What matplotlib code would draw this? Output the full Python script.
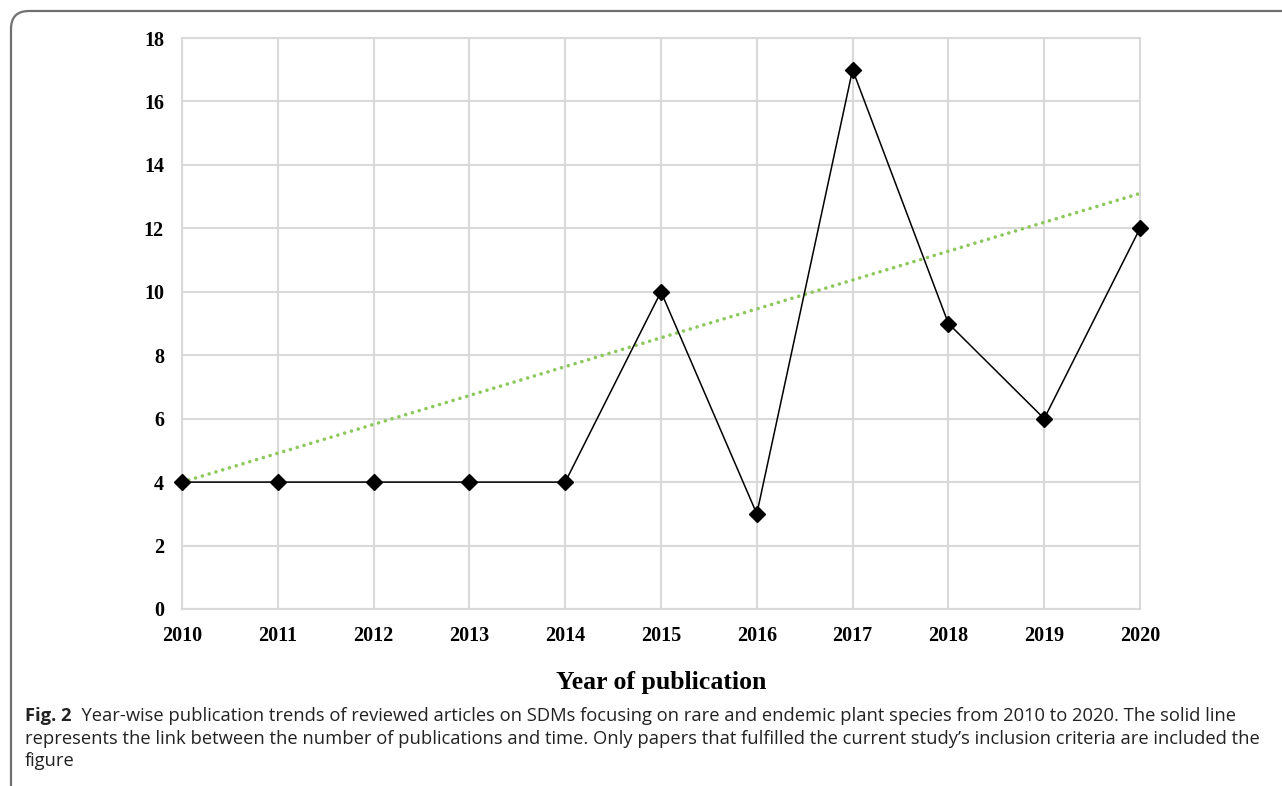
import matplotlib.pyplot as plt
from matplotlib.patches import FancyBboxPatch

# publications per year
years = [2010, 2011, 2012, 2013, 2014, 2015, 2016, 2017, 2018, 2019, 2020]
counts = [4, 4, 4, 4, 4, 10, 3, 17, 9, 6, 12]

# trendline end values
trend_years = [2010, 2020]
trend_vals = [4.0, 13.1]

y_ticks = [0, 2, 4, 6, 8, 10, 12, 14, 16, 18]

caption_bold = "Fig. 2"
caption_lines = [
    "  Year-wise publication trends of reviewed articles on SDMs focusing on rare and endemic plant species from 2010 to 2020. The solid line",
    "represents the link between the number of publications and time. Only papers that fulfilled the current study\u2019s inclusion criteria are included the",
    "figure",
]

fig = plt.figure(figsize=(12.82, 7.86), dpi=100)
ax = fig.add_axes([182 / 1282, 1 - 609 / 786, (1140 - 182) / 1282, (609 - 38) / 786])

grid_col = "#d9d9d9"
ax.plot(trend_years, trend_vals, color="#8cc85a", linestyle=(0, (0.01, 1.95)),
        linewidth=2.6, dash_capstyle="round", zorder=2)
ax.plot(years, counts, color="black", linewidth=1.1, marker="D",
        markersize=7.8, markerfacecolor="black", zorder=3, clip_on=False)

ax.set_xlim(2010, 2020)
ax.set_ylim(0, 18)
ax.set_xticks(years)
ax.set_yticks(y_ticks)
ax.grid(True, color=grid_col, linewidth=1.5)
ax.set_axisbelow(True)
for s in ax.spines.values():
    s.set_color(grid_col)
    s.set_linewidth(1.5)
ax.tick_params(length=0, pad=12)
for lab in ax.get_xticklabels() + ax.get_yticklabels():
    lab.set_fontfamily("Liberation Serif")
    lab.set_fontweight("bold")
    lab.set_fontsize(14.5)
ax.tick_params(axis="y", pad=13)
ax.set_xlabel("Year of publication", family="Liberation Serif", fontweight="bold",
              fontsize=18.5, labelpad=18)

# rounded frame around the figure, open on the right and bottom
frame = FancyBboxPatch((11 / 1282, -0.5), 2.0, 0.5 + (786 - 11) / 786,
                       boxstyle="round,pad=0,rounding_size=0.014",
                       transform=fig.transFigure, facecolor="none",
                       edgecolor="#707070", linewidth=1.6, clip_on=False,
                       mutation_aspect=1282 / 786)
fig.patches.append(frame)

cap_font = "Open Sans"
cap_size = 13.2
t = fig.text(25 / 1282, 1 - 716 / 786, caption_bold, fontfamily=cap_font,
             fontweight="bold", fontsize=cap_size, color="#222222", va="center")
fig.canvas.draw()
bb = t.get_window_extent()
x_after = bb.x1 / 1282
fig.text(x_after, 1 - 716 / 786, caption_lines[0], fontfamily=cap_font,
         fontsize=cap_size, color="#222222", va="center")
fig.text(25 / 1282, 1 - 739 / 786, caption_lines[1], fontfamily=cap_font,
         fontsize=cap_size, color="#222222", va="center")
fig.text(25 / 1282, 1 - 761 / 786, caption_lines[2], fontfamily=cap_font,
         fontsize=cap_size, color="#222222", va="center")

fig.savefig("out.png", dpi=100)
